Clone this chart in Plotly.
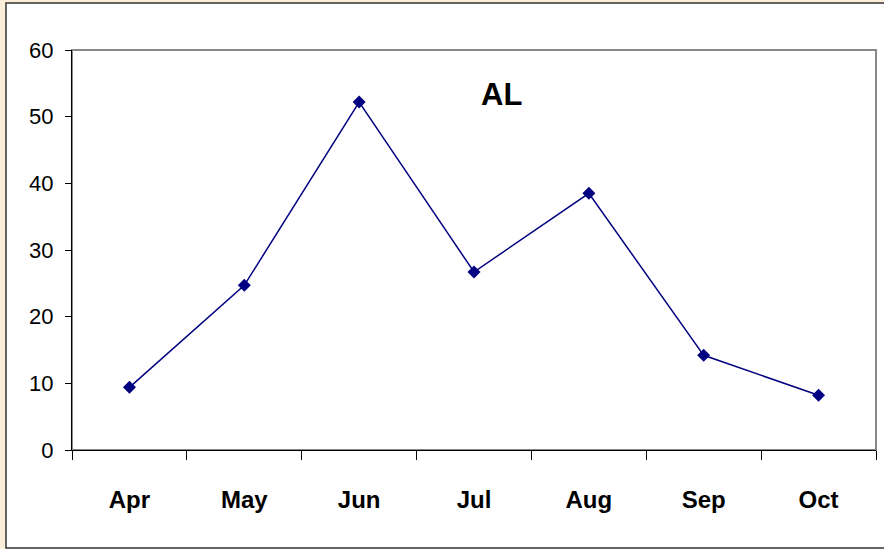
import plotly.graph_objects as go

months = ["Apr", "May", "Jun", "Jul", "Aug", "Sep", "Oct"]
values = [9.4, 24.7, 52.2, 26.7, 38.5, 14.2, 8.2]
y_ticks = [0, 10, 20, 30, 40, 50, 60]

W, H = 884, 549
L, R, T, B = 72, 8, 50, 99
pw, ph = W - L - R, H - T - B

def px_x(p):
    return (p - L) / pw

def px_y(p):
    return (H - B - p) / ph

fig = go.Figure()
fig.add_trace(go.Scatter(
    x=months, y=values, mode="lines+markers",
    line=dict(color="#000080", width=1.5),
    marker=dict(symbol="diamond", size=10, color="#000080"),
    hoverinfo="x+y",
))

fig.update_layout(
    width=W, height=H,
    margin=dict(l=L, r=R, t=T, b=B),
    paper_bgcolor="#FCEFD9",
    plot_bgcolor="rgba(0,0,0,0)",
    showlegend=False,
    font=dict(family="Arial, Liberation Sans, sans-serif", color="black"),
    xaxis=dict(
        type="category", categoryorder="array", categoryarray=months,
        range=[-0.5, 6.5],
        tickson="boundaries", ticks="outside", ticklen=9, tickwidth=1, tickcolor="black",
        showline=True, linecolor="black", linewidth=1.2,
        showgrid=False, zeroline=False,
        tickfont=dict(size=24, family="Arial, Liberation Sans, sans-serif", weight="bold"),
        ticklabelstandoff=28,
    ),
    yaxis=dict(
        range=[0, 60], tickvals=y_ticks,
        ticks="outside", ticklen=6, tickwidth=1, tickcolor="black",
        showline=True, linecolor="black", linewidth=1.2,
        showgrid=False, zeroline=False,
        tickfont=dict(size=22),
        ticklabelstandoff=7,
    ),
    shapes=[
        # white chart panel with dark frame
        dict(type="rect", xref="paper", yref="paper", layer="below",
             x0=px_x(6), x1=px_x(900), y0=px_y(548), y1=px_y(3),
             fillcolor="white", line=dict(color="#333333", width=1.5)),
        # grey plot-area frame (top and right edges)
        dict(type="rect", xref="paper", yref="paper", layer="below",
             x0=0, x1=1, y0=0, y1=1,
             line=dict(color="#888888", width=2)),
    ],
    annotations=[
        dict(text="<b>AL</b>", xref="paper", yref="paper",
             x=px_x(501), y=px_y(94), xanchor="center", yanchor="middle",
             showarrow=False, font=dict(size=31)),
    ],
)

fig.write_html("out.html")
